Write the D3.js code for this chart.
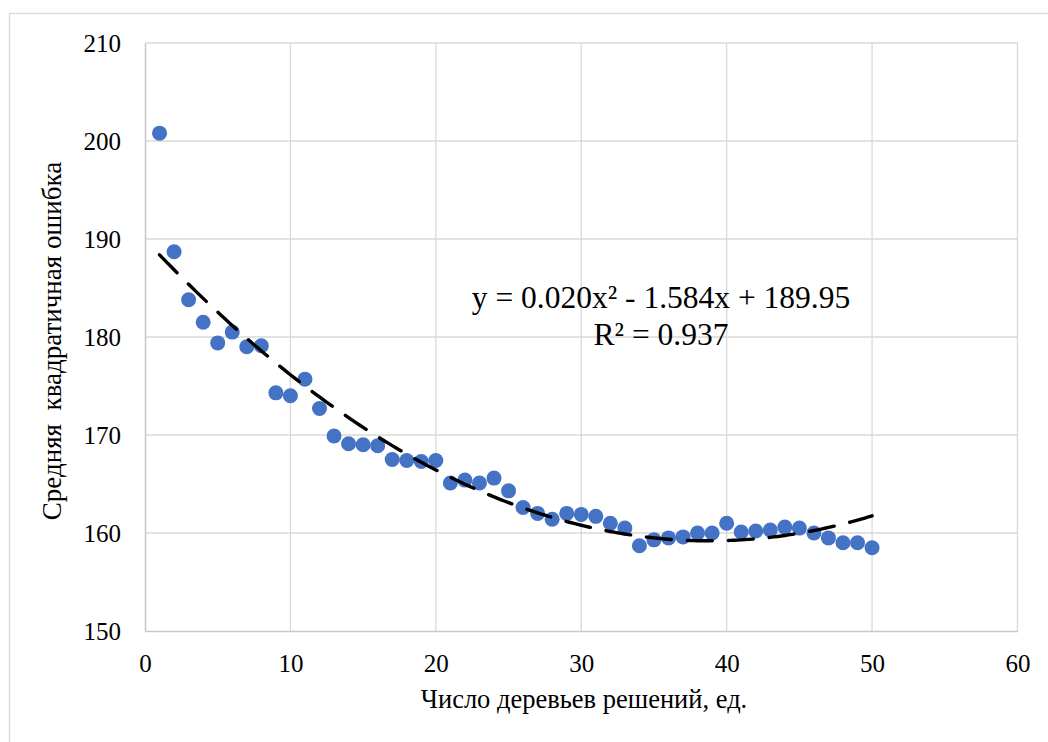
<!DOCTYPE html>
<html>
<head>
<meta charset="utf-8">
<script src="https://cdn.jsdelivr.net/npm/d3@7"></script>
<style>
  html, body { margin: 0; padding: 0; background: #fff; }
  svg { display: block; }
  text { font-family: "Liberation Serif", "Times New Roman", serif; fill: #000; }
</style>
</head>
<body>
<div id="chart"></div>
<script>
// Number of decision trees (x) and the resulting mean squared error (y)
const trees = [1,2,3,4,5,6,7,8,9,10,11,12,13,14,15,16,17,18,19,20,21,22,23,24,25,
               26,27,28,29,30,31,32,33,34,35,36,37,38,39,40,41,42,43,44,45,46,47,48,49,50];
const mse = [200.8,188.7,183.8,181.5,179.4,180.5,179.0,179.1,174.3,174.0,175.7,172.7,169.9,169.1,169.0,
             168.9,167.5,167.4,167.3,167.4,165.1,165.4,165.1,165.6,164.3,162.6,162.0,161.4,162.0,161.9,
             161.7,161.0,160.5,158.7,159.3,159.5,159.6,160.0,160.0,161.0,160.1,160.2,160.3,160.6,160.5,
             160.0,159.5,159.0,159.0,158.5];

// Polynomial (order 2) trendline coefficients: y = a*x^2 + b*x + c
// (the label prints a to three decimals, b to three, c to two)
const trendCoef = [0.0204, -1.584, 189.95];
const trendR2 = 0.937;

const xTicks = [0,10,20,30,40,50,60];
const yTicks = [150,160,170,180,190,200,210];

const W = 1048, H = 742;
const margin = { left: 145, top: 43, right: W - 1017.5, bottom: H - 631 };
const serif = '"Liberation Serif", "Times New Roman", serif';

const svg = d3.select("#chart").append("svg")
  .attr("width", W).attr("height", H);

// outer chart frame
svg.append("rect")
  .attr("x", 9.5).attr("y", 13.5)
  .attr("width", W + 20).attr("height", H + 20)
  .attr("fill", "#fff").attr("stroke", "#d9d9d9").attr("stroke-width", 1.3);

const x = d3.scaleLinear().domain([0, 60]).range([margin.left, W - margin.right]);
const y = d3.scaleLinear().domain([150, 210]).range([H - margin.bottom, margin.top]);

// gridlines
const grid = svg.append("g");
grid.selectAll(".vg").data(xTicks.slice(1)).join("line")
  .attr("x1", d => x(d)).attr("x2", d => x(d))
  .attr("y1", y(150)).attr("y2", y(210))
  .attr("stroke", "#d9d9d9").attr("stroke-width", 1.3);
grid.selectAll(".hg").data(yTicks.slice(1)).join("line")
  .attr("x1", x(0)).attr("x2", x(60))
  .attr("y1", d => y(d)).attr("y2", d => y(d))
  .attr("stroke", "#d9d9d9").attr("stroke-width", 1.3);

// axes
const xAxis = svg.append("g")
  .attr("transform", `translate(0,${y(150)})`)
  .call(d3.axisBottom(x).tickValues(xTicks).tickSize(0).tickPadding(23));
const yAxis = svg.append("g")
  .attr("transform", `translate(${x(0)},0)`)
  .call(d3.axisLeft(y).tickValues(yTicks).tickSize(0).tickPadding(24));
[xAxis, yAxis].forEach(g => {
  g.select(".domain").attr("stroke", "#c8c8c8").attr("stroke-width", 1.5);
  g.selectAll("text").style("font-family", serif)
    .style("font-size", "25px").attr("fill", "#000");
});

// data points
svg.append("g").selectAll("circle").data(trees).join("circle")
  .attr("cx", d => x(d))
  .attr("cy", (d, i) => y(mse[i]))
  .attr("r", 7.5)
  .attr("fill", "#4472c4");

// trendline
const poly = t => trendCoef[0] * t * t + trendCoef[1] * t + trendCoef[2];
const trendX = d3.range(trees[0], trees[trees.length - 1] + 0.001, 0.25);
svg.append("path")
  .datum(trendX)
  .attr("d", d3.line().x(t => x(t)).y(t => y(poly(t))))
  .attr("fill", "none")
  .attr("stroke", "#000")
  .attr("stroke-width", 3.4)
  .attr("stroke-linecap", "round")
  .attr("stroke-dasharray", "25 16");

// trendline equation
const eq = svg.append("text")
  .attr("text-anchor", "middle")
  .style("font-family", serif)
  .style("font-size", "31.5px");
eq.append("tspan").attr("x", 661).attr("y", 308)
  .text(`y = ${trendCoef[0].toFixed(3)}x² - ${Math.abs(trendCoef[1]).toFixed(3)}x + ${trendCoef[2].toFixed(2)}`);
eq.append("tspan").attr("x", 661).attr("y", 345)
  .text(`R² = ${trendR2.toFixed(3)}`);

// axis titles
svg.append("text")
  .attr("x", 584).attr("y", 708)
  .attr("text-anchor", "middle")
  .style("font-family", serif)
  .style("font-size", "26.5px")
  .text("Число деревьев решений, ед.");
svg.append("text")
  .attr("transform", "translate(61,341) rotate(-90)")
  .attr("text-anchor", "middle")
  .style("font-family", serif)
  .style("font-size", "27px")
  .style("white-space", "pre")
  .text("Средняя  квадратичная ошибка");
</script>
</body>
</html>
